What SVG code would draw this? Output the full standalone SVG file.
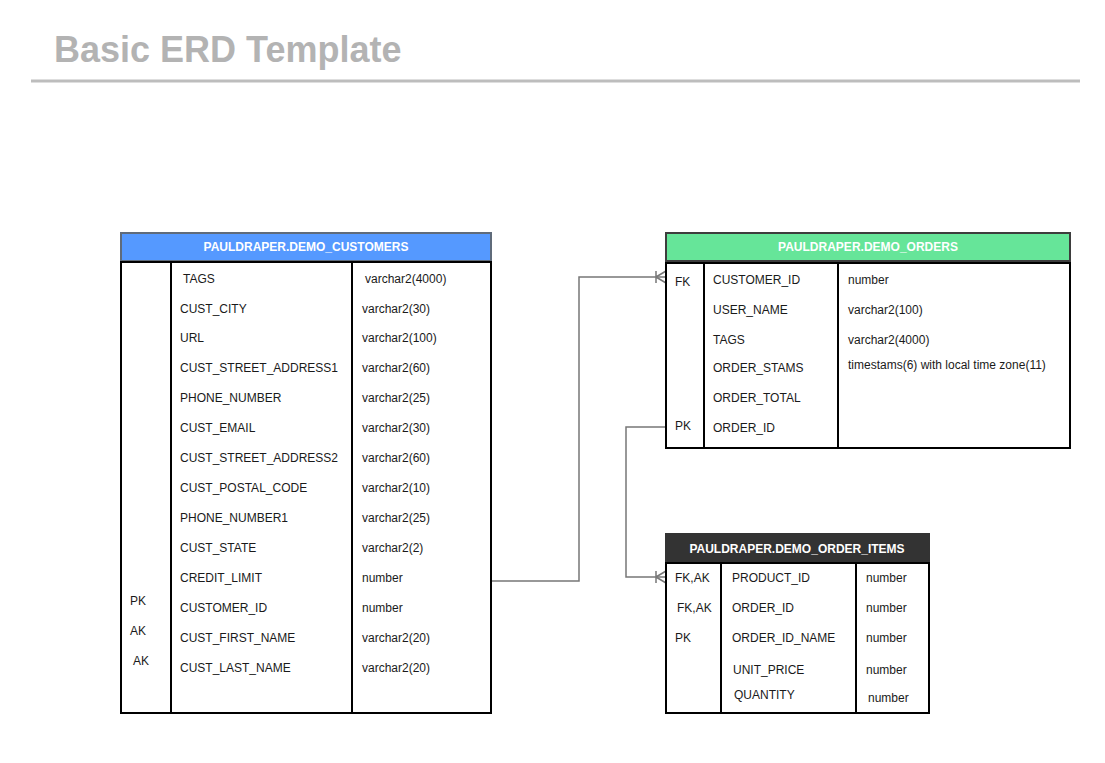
<svg xmlns="http://www.w3.org/2000/svg" width="1105" height="763" viewBox="0 0 1105 763">
<style>
text{font-family:"Liberation Sans",Arial,sans-serif;}
.t{font-size:12px;fill:#1a1a1a;}
.h{font-size:12px;font-weight:bold;fill:#ffffff;text-anchor:middle;}
.body{fill:#ffffff;stroke:#000000;stroke-width:2;}
.col{stroke:#000000;stroke-width:2;fill:none;}
.conn{fill:none;stroke:#777777;stroke-width:1.5;}
</style>
<defs>
<marker id="crow" markerWidth="12" markerHeight="14" refX="11" refY="7" orient="auto" markerUnits="userSpaceOnUse">
<path d="M1,1 L1,13 M1,7 L11,1 M1,7 L11,13" fill="none" stroke="#777777" stroke-width="1.5"/>
</marker>
</defs>
<rect width="1105" height="763" fill="#ffffff"/>
<text x="54" y="62" style="font-size:36px;font-weight:bold;fill:#b3b3b3">Basic ERD Template</text>
<line x1="31" y1="81" x2="1080" y2="81" stroke="#bdbdbd" stroke-width="3"/>

<g id="connectors">
<path class="conn" d="M491,581 H579 V277 H666" marker-end="url(#crow)"/>
<path class="conn" d="M666,427 H626 V577 H666" marker-end="url(#crow)"/>
</g>

<g id="demo_customers">
<rect x="121" y="233" width="370" height="28" fill="#5599ff" stroke="#5f6b7a" stroke-width="2"/>
<text class="h" x="306" y="251">PAULDRAPER.DEMO_CUSTOMERS</text>
<rect class="body" x="121" y="262" width="370" height="451"/>
<line class="col" x1="171" y1="262" x2="171" y2="713"/>
<line class="col" x1="352" y1="262" x2="352" y2="713"/>
<text class="t" x="183" y="283">TAGS</text><text class="t" x="365" y="283">varchar2(4000)</text>
<text class="t" x="180" y="313">CUST_CITY</text><text class="t" x="362" y="313">varchar2(30)</text>
<text class="t" x="180" y="342">URL</text><text class="t" x="362" y="342">varchar2(100)</text>
<text class="t" x="180" y="372">CUST_STREET_ADDRESS1</text><text class="t" x="362" y="372">varchar2(60)</text>
<text class="t" x="180" y="402">PHONE_NUMBER</text><text class="t" x="362" y="402">varchar2(25)</text>
<text class="t" x="180" y="432">CUST_EMAIL</text><text class="t" x="362" y="432">varchar2(30)</text>
<text class="t" x="180" y="462">CUST_STREET_ADDRESS2</text><text class="t" x="362" y="462">varchar2(60)</text>
<text class="t" x="180" y="492">CUST_POSTAL_CODE</text><text class="t" x="362" y="492">varchar2(10)</text>
<text class="t" x="180" y="522">PHONE_NUMBER1</text><text class="t" x="362" y="522">varchar2(25)</text>
<text class="t" x="180" y="552">CUST_STATE</text><text class="t" x="362" y="552">varchar2(2)</text>
<text class="t" x="180" y="582">CREDIT_LIMIT</text><text class="t" x="362" y="582">number</text>
<text class="t" x="180" y="612">CUSTOMER_ID</text><text class="t" x="362" y="612">number</text>
<text class="t" x="180" y="642">CUST_FIRST_NAME</text><text class="t" x="362" y="642">varchar2(20)</text>
<text class="t" x="180" y="672">CUST_LAST_NAME</text><text class="t" x="362" y="672">varchar2(20)</text>
<text class="t" x="130" y="605">PK</text>
<text class="t" x="130" y="635">AK</text>
<text class="t" x="133" y="665">AK</text>
</g>

<g id="demo_orders">
<rect x="666" y="233" width="404" height="28" fill="#66e599" stroke="#3d3d3d" stroke-width="2"/>
<text class="h" x="868" y="251">PAULDRAPER.DEMO_ORDERS</text>
<rect class="body" x="666" y="263" width="404" height="185"/>
<line class="col" x1="704" y1="263" x2="704" y2="448"/>
<line class="col" x1="838" y1="263" x2="838" y2="448"/>
<text class="t" x="675" y="286">FK</text>
<text class="t" x="713" y="284">CUSTOMER_ID</text><text class="t" x="848" y="284">number</text>
<text class="t" x="713" y="314">USER_NAME</text><text class="t" x="848" y="314">varchar2(100)</text>
<text class="t" x="713" y="344">TAGS</text><text class="t" x="848" y="344">varchar2(4000)</text>
<text class="t" x="713" y="372">ORDER_STAMS</text><text class="t" x="848" y="369">timestams(6) with local time zone(11)</text>
<text class="t" x="713" y="402">ORDER_TOTAL</text>
<text class="t" x="675" y="430">PK</text>
<text class="t" x="713" y="432">ORDER_ID</text>
</g>

<g id="demo_order_items">
<rect x="666" y="534" width="263" height="29" fill="#333333" stroke="#333333" stroke-width="2"/>
<text class="h" x="797" y="553">PAULDRAPER.DEMO_ORDER_ITEMS</text>
<rect class="body" x="666" y="563" width="263" height="150"/>
<line class="col" x1="721" y1="563" x2="721" y2="713"/>
<line class="col" x1="856" y1="563" x2="856" y2="713"/>
<text class="t" x="675" y="582">FK,AK</text>
<text class="t" x="677" y="612">FK,AK</text>
<text class="t" x="675" y="642">PK</text>
<text class="t" x="732" y="582">PRODUCT_ID</text><text class="t" x="866" y="582">number</text>
<text class="t" x="732" y="612">ORDER_ID</text><text class="t" x="866" y="612">number</text>
<text class="t" x="732" y="642">ORDER_ID_NAME</text><text class="t" x="866" y="642">number</text>
<text class="t" x="733" y="674">UNIT_PRICE</text><text class="t" x="866" y="674">number</text>
<text class="t" x="734" y="699">QUANTITY</text><text class="t" x="868" y="702">number</text>
</g>
</svg>
